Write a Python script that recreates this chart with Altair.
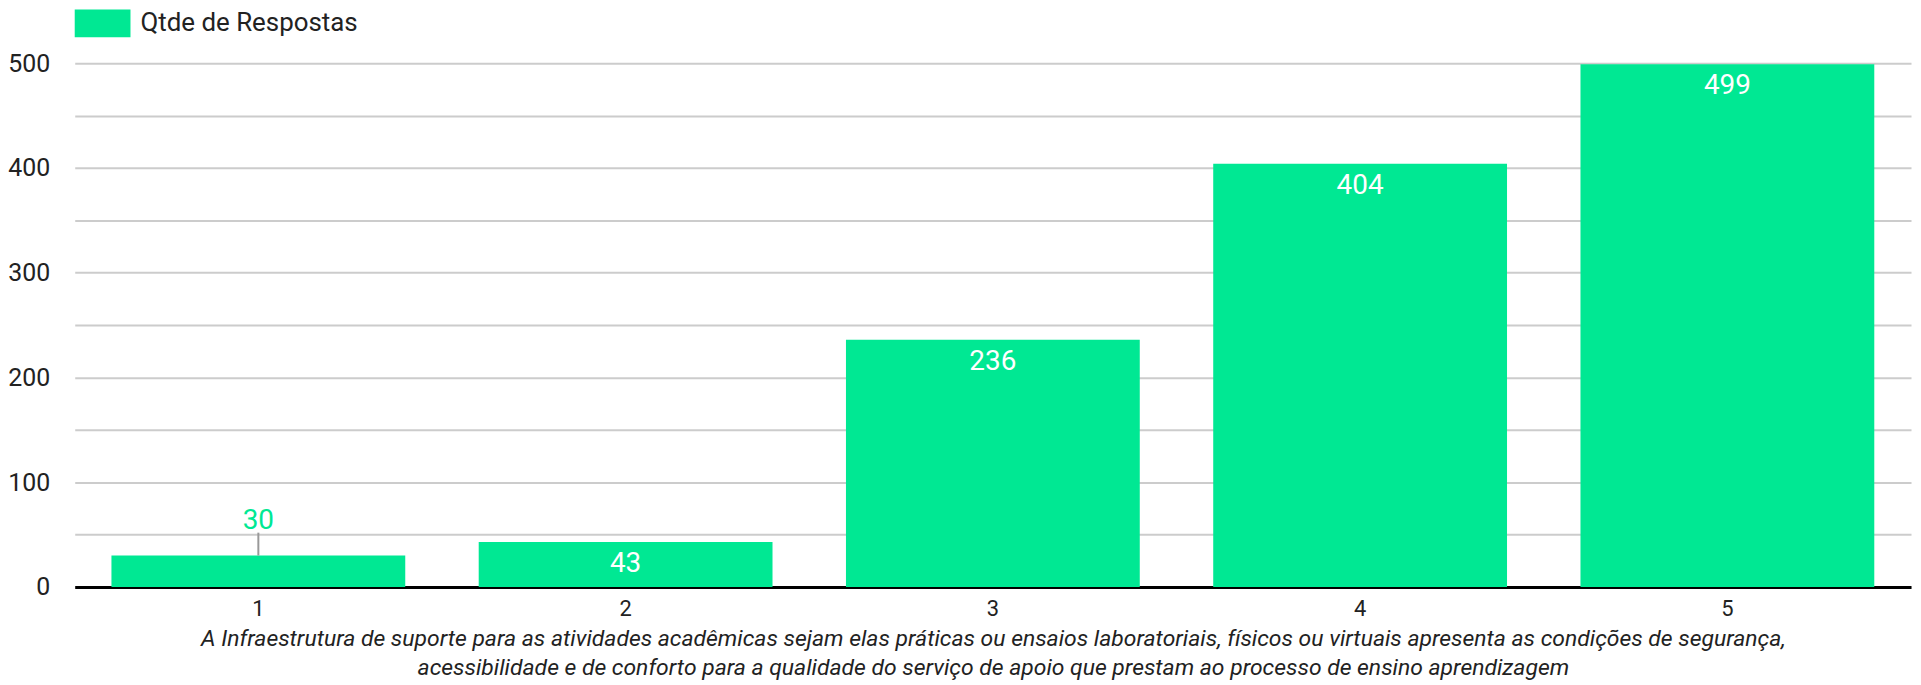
import altair as alt
import pandas as pd

categories = ["1", "2", "3", "4", "5"]
values = [30, 43, 236, 404, 499]
series_name = "Qtde de Respostas"
x_title = [
    "A Infraestrutura de suporte para as atividades acadêmicas sejam elas práticas ou ensaios laboratoriais, físicos ou virtuais apresenta as condições de segurança,",
    "acessibilidade e de conforto para a qualidade do serviço de apoio que prestam ao processo de ensino aprendizagem",
]
y_ticks = list(range(0, 501, 50))

GREEN = "#00E893"
FONT = "Roboto"

df = pd.DataFrame({"cat": categories, "value": values, "series": [series_name] * len(values)})

x_enc = alt.X(
    "cat:N",
    sort=categories,
    scale=alt.Scale(paddingInner=0.2, paddingOuter=0.1),
    axis=alt.Axis(
        title=x_title,
        titleFont=FONT,
        titleFontSize=23,
        titleFontStyle="italic",
        titleFontWeight="normal",
        titleColor="#222",
        titleLineHeight=29,
        titlePadding=8,
        labelAngle=0,
        labelFont=FONT,
        labelFontSize=22,
        labelColor="#222",
        labelPadding=12,
        ticks=False,
        domainColor="#000",
        domainWidth=3,
        grid=False,
    ),
)

y_enc = alt.Y(
    "value:Q",
    scale=alt.Scale(domain=[0, 500], nice=False),
    axis=alt.Axis(
        title=None,
        values=y_ticks,
        labelExpr="datum.value % 100 == 0 ? datum.label : ''",
        labelFont=FONT,
        labelFontSize=25,
        labelColor="#222",
        labelPadding=25,
        ticks=False,
        domain=False,
        grid=True,
        gridColor="#cccccc",
        gridWidth=2,
    ),
)

bars = alt.Chart(df).mark_bar().encode(
    x=x_enc,
    y=y_enc,
    color=alt.Color(
        "series:N",
        scale=alt.Scale(range=[GREEN]),
        legend=alt.Legend(
            title=None,
            orient="none",
            legendX=0,
            legendY=-68,
            symbolType="M-1,-0.5H1V0.5H-1Z",
            symbolSize=3136,
            symbolStrokeWidth=0,
            symbolOpacity=1,
            labelFont=FONT,
            labelFontSize=26,
            labelColor="#222",
            labelOffset=10,
            labelLimit=0,
            padding=0,
        ),
    ),
)

inside = alt.Chart(df).transform_filter("datum.value >= 40").mark_text(
    font=FONT, fontSize=28, color="white", baseline="alphabetic", dy=30
).encode(x=alt.X("cat:N", sort=categories), y="value:Q", text="value:Q")

outside = alt.Chart(df).transform_filter("datum.value < 40").mark_text(
    font=FONT, fontSize=28, color=GREEN, baseline="alphabetic", dy=-27
).encode(x=alt.X("cat:N", sort=categories), y="value:Q", text="value:Q")

leader = alt.Chart(df).transform_filter("datum.value < 40").mark_rule(
    color="#999999", strokeWidth=2, y2Offset=-23
).encode(x=alt.X("cat:N", sort=categories), y="value:Q", y2="value:Q")

chart = (
    alt.layer(bars, leader, outside, inside)
    .properties(
        width=1844,
        height=526,
        autosize=alt.AutoSizeParams(type="none"),
        padding={"left": 67, "top": 54, "right": 2, "bottom": 95},
    )
    .configure_view(stroke=None)
)

chart.save("out.html", embed_options={"renderer": "svg", "actions": False})
